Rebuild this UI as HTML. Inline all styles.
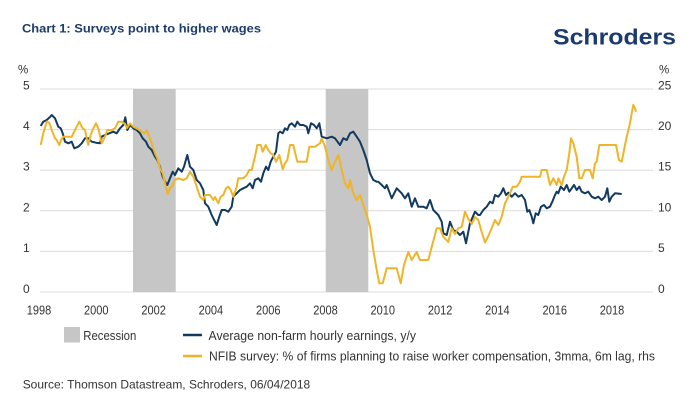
<!DOCTYPE html>
<html>
<head>
<meta charset="utf-8">
<style>
html,body{margin:0;padding:0;background:#fff;}
body{width:696px;height:411px;overflow:hidden;}
svg{display:block;}
text{font-family:"Liberation Sans",sans-serif;}
</style>
</head>
<body>
<svg width="696" height="411" viewBox="0 0 696 411" xmlns="http://www.w3.org/2000/svg">
  <rect x="0" y="0" width="696" height="411" fill="#ffffff"/>
  <!-- Title & logo -->
  <text x="22" y="32.3" font-size="12" font-weight="bold" fill="#1d3c6b" textLength="239" lengthAdjust="spacingAndGlyphs">Chart 1: Surveys point to higher wages</text>
  <text x="553" y="44.3" font-size="22.5" font-weight="bold" fill="#1b3b6f" textLength="123" lengthAdjust="spacingAndGlyphs">Schroders</text>

  <!-- Axis unit labels -->
  <text x="18" y="73.5" font-size="11.5" fill="#333">%</text>
  <text x="659" y="73.5" font-size="11.5" fill="#333">%</text>

  <!-- Gridlines -->
  <g stroke="#dcdcdc" stroke-width="1">
    <line x1="40" y1="89" x2="653" y2="89"/>
    <line x1="40" y1="129.6" x2="653" y2="129.6"/>
    <line x1="40" y1="170.2" x2="653" y2="170.2"/>
    <line x1="40" y1="210.8" x2="653" y2="210.8"/>
    <line x1="40" y1="251.4" x2="653" y2="251.4"/>
    <line x1="40" y1="292" x2="653" y2="292"/>
  </g>

  <!-- Recession bands -->
  <rect x="133" y="89" width="42.7" height="203" fill="#c6c6c6"/>
  <rect x="325.7" y="89" width="42.6" height="203" fill="#c6c6c6"/>

  <!-- Left tick labels -->
  <g font-size="12" fill="#333">
    <text x="23" y="89.5">5</text>
    <text x="23" y="130.1">4</text>
    <text x="23" y="170.7">3</text>
    <text x="23" y="211.3">2</text>
    <text x="23" y="251.9">1</text>
    <text x="23" y="293">0</text>
  </g>
  <!-- Right tick labels -->
  <g font-size="12" fill="#333">
    <text x="658" y="89.5">25</text>
    <text x="658" y="130.1">20</text>
    <text x="658" y="170.7">15</text>
    <text x="658" y="211.3">10</text>
    <text x="658" y="251.9">5</text>
    <text x="658" y="293">0</text>
  </g>

  <!-- X tick labels -->
  <g font-size="13" fill="#333" text-anchor="middle">
    <text x="39" y="314.3" textLength="24.5" lengthAdjust="spacingAndGlyphs">1998</text>
    <text x="96.3" y="314.3" textLength="24.5" lengthAdjust="spacingAndGlyphs">2000</text>
    <text x="153.6" y="314.3" textLength="24.5" lengthAdjust="spacingAndGlyphs">2002</text>
    <text x="210.9" y="314.3" textLength="24.5" lengthAdjust="spacingAndGlyphs">2004</text>
    <text x="268.2" y="314.3" textLength="24.5" lengthAdjust="spacingAndGlyphs">2006</text>
    <text x="325.5" y="314.3" textLength="24.5" lengthAdjust="spacingAndGlyphs">2008</text>
    <text x="382.8" y="314.3" textLength="24.5" lengthAdjust="spacingAndGlyphs">2010</text>
    <text x="440.1" y="314.3" textLength="24.5" lengthAdjust="spacingAndGlyphs">2012</text>
    <text x="497.4" y="314.3" textLength="24.5" lengthAdjust="spacingAndGlyphs">2014</text>
    <text x="554.7" y="314.3" textLength="24.5" lengthAdjust="spacingAndGlyphs">2016</text>
    <text x="612" y="314.3" textLength="24.5" lengthAdjust="spacingAndGlyphs">2018</text>
  </g>

  <!-- Blue series -->
  <polyline fill="none" stroke="#123a5f" stroke-width="2" stroke-linejoin="round" points="
40.7,126 43.3,121.7 46.7,120 50,117 51.7,115 55,118.3 58.3,126.7 60.7,128.3 62.7,133.3 65,141.7 68.3,143.3 71.7,141.7 74.3,148.3 78.3,146.7 81.7,143.3 85,138.3 88.3,138.3 91.7,141.7 96,142.7 100,143.3 101.7,136.7 105,135 109.3,133.3 113.3,131.7 116.7,133.3 120,128.3 123.3,125 125.3,117.3 127.3,130 130,125 133.3,128.3 136.7,130 140,133.3 142.7,138.3 146,141.7 148.3,146.7 151.7,150 155,156.7 157.3,160 160,166.7 162.7,176.7 165,181.7 167.3,185 170,178.3 172.7,171.7 175,175 178.3,168.3 181.7,171.7 184,166.7 187.3,155 190,166.7 193.3,170 196.7,180 200,183.3 203.3,190 205,203.3 208.3,206.7 211.7,215 213.3,218.3 216.7,225 219.3,216.7 221.7,210 225,210 228.3,211.7 231.7,206.7 233.3,196.7 236.7,193.3 240,190 243.3,188.3 246.7,186.7 250,183.3 252.7,188.3 255,180 258.3,178.3 261,181.7 263.3,173.3 266,166.7 268.3,170 270.7,161.7 273.3,156.7 276,151.7 278.3,133.3 280,131.7 282.7,133.3 285,128.3 287.3,130 289.3,125 291.7,123.3 295,126.7 297.3,121.7 300,125 303.3,125 306.7,126.7 308.3,133.3 311,123.3 314,125 316.7,128.3 319.3,123.3 321.7,136.7 326.7,138.3 331.7,136.7 335,138.3 340,145 343.3,138.3 346.7,140 350,133.3 353.3,131.7 356.7,136.7 360,141.7 363.3,150 366.7,160 370,173.3 373.3,180 376.7,181.7 378.3,181.7 381.7,185 385,188.3 386.7,185 391.7,198.3 396.7,188.3 401.7,193.3 405,198.3 408.3,193.3 411.7,206.7 415,198.3 418.3,206.7 423.3,206.7 426.7,208.3 430,200 433.3,210 438.3,215 441.7,221.7 443.3,233.3 446.7,235 450,221.7 453.3,230 456.7,231.7 460,235 463.3,231.7 466,243.3 470,223.3 475,211.7 478.3,215 480,215 483.3,210 486.7,206.7 490,201.7 492.7,203.3 495,195 498.3,196.7 501,193.3 503.3,188.3 506,195 508.3,192.7 511.7,196.7 515,193.3 518.3,196.7 521.7,195 525,200 527.3,211.7 529.3,210 531.7,216.7 533.3,223.3 535.7,213.3 538.3,215 541,206.7 544,205 546.7,208.3 550,206.7 552.3,201.7 555,195 556.7,191.7 558.3,193.3 560.7,186.7 564,190 566.7,185 569.3,191.7 571.7,188.3 574,185 576.7,190 579.3,186.7 581.7,191.7 585,193.3 588.3,191.7 591.7,196.7 595,198.3 598.3,196.7 601.7,200 605,196.7 607.3,188.3 609.3,201.7 611.7,196.7 615,193.3 621.7,194"/>

  <!-- Orange series -->
  <polyline fill="none" stroke="#f0b429" stroke-width="2" stroke-linejoin="round" points="
40.7,145 43.3,133.3 46.7,121.7 49.3,122.7 51.7,130 55,138.3 56.7,140 59.3,145 61,140 63.3,136.7 66.7,136.7 71.7,136.7 75,130 79.3,121.7 82.7,128.3 85,130 86.7,138.3 88.3,145 90.7,135 93.3,128.3 96,123.3 98.3,128.3 101.7,143.3 105,136.7 107.3,130 111.7,130 115,128.3 118.3,121.7 121.7,121.7 125,124 127,128 130,123.3 133.3,126.7 138.3,129.3 141.7,131.7 145,133.3 146.7,130 149.3,136.7 151.7,143.3 155,153.3 157.3,158.3 160,168.3 162.7,173.3 165,183.3 167.7,194 170,188.3 172.7,185 175,180 178.3,178.3 183.3,180 186.7,178.3 190,171.7 193.3,176.7 196.7,186.7 200,196.7 203.3,200 205,195 210,195 213.3,200 215,197 218.3,203.3 220.7,196.7 223.3,195 226,188.3 228.3,186.7 230.7,190 233.3,196.7 236.7,186.7 238.3,178.3 243.3,178.3 246.7,175 249.3,170 251.7,170 255,156.7 257.3,145 260.7,145 262.7,151.7 265.7,145 268.3,150 270.7,153.3 273.3,155 276,161.7 279.3,155 282.7,169.3 285,163.3 287.3,160 290,145 293.3,145 297.3,161.7 306.7,161.7 309.3,146.7 315,146.7 320,143.3 321.7,138.3 325,146.7 328.3,160 331.7,170 335,161.7 338.3,155 341.7,170 345,183.3 348.3,188.3 350,180 353.3,193.3 356.7,200 360,195 362.7,203.3 366.7,215 370,226.7 373.3,250 376.7,270 379.3,283.3 382.7,283.3 386.7,268.3 396.7,268.3 400.7,283.3 404,265 408.3,252 411.7,260 416.7,252 420,260 428.3,260 431.7,247 436.7,228.3 440,228.3 443.3,236.7 448.3,242 451.7,228.3 455,234 458.3,228.3 461.7,227 465,211.7 468.3,219 471.7,224 475,217 478.3,220 481.7,232 485,242.5 488.3,236 491.7,228.3 495,220 498.3,225 501.7,216.7 505,203.3 506.7,200 510,193.3 512.7,186.7 516.7,186.7 520,181.7 521.7,176.7 540,176.7 541.7,170 546.7,170 550,185 553.3,178.3 556.7,185 558.3,178.3 561.7,185 564,176.7 566.7,170 569.3,153.3 571,138.3 573.3,143.3 576.7,156.7 579.3,178.3 581.7,178.3 585,170 590,170 592.7,178.3 595,163.3 596.7,161.7 599.3,145 616,145 619,160 621.7,161.7 624,150 626.7,136.7 630,123.3 631.7,113.3 633.3,105 635,108.3 636,111.7"/>

  <!-- Legend -->
  <rect x="64" y="327" width="16" height="15.5" fill="#c6c6c6"/>
  <text x="83.3" y="340" font-size="13" fill="#333" textLength="53" lengthAdjust="spacingAndGlyphs">Recession</text>
  <line x1="183" y1="335" x2="202" y2="335" stroke="#123a5f" stroke-width="2.5"/>
  <text x="208.5" y="340" font-size="13" fill="#333" textLength="207.5" lengthAdjust="spacingAndGlyphs">Average non-farm hourly earnings, y/y</text>
  <line x1="183" y1="356" x2="202" y2="356" stroke="#f0b429" stroke-width="2.5"/>
  <text x="209" y="360.5" font-size="13" fill="#333" textLength="446" lengthAdjust="spacingAndGlyphs">NFIB survey: % of firms planning to raise worker compensation, 3mma, 6m lag, rhs</text>

  <!-- Source -->
  <text x="22.7" y="388.7" font-size="12" fill="#333" textLength="287.5" lengthAdjust="spacingAndGlyphs">Source: Thomson Datastream, Schroders, 06/04/2018</text>
</svg>
</body>
</html>
